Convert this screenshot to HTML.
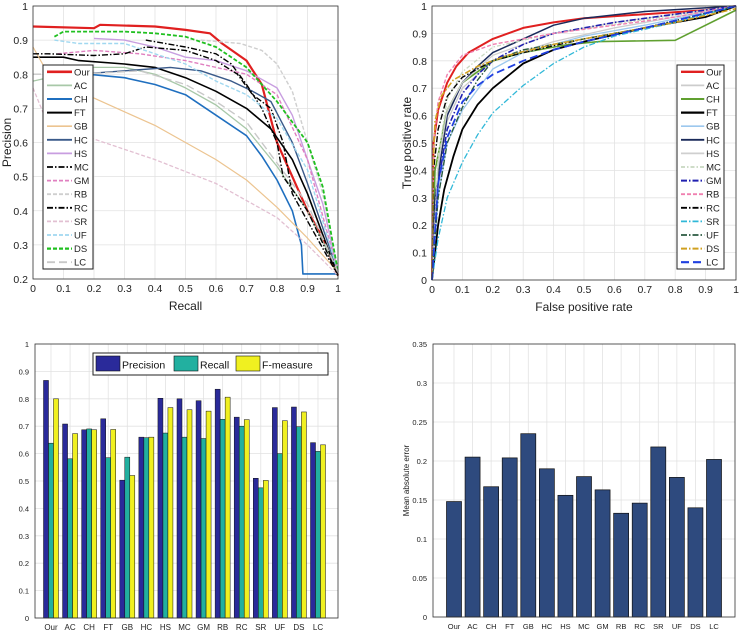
<!DOCTYPE html>
<html><head><meta charset="utf-8"><style>
body{margin:0;background:#fff;width:740px;height:633px;overflow:hidden;font-family:"Liberation Sans",sans-serif}
svg{position:absolute;left:0;top:0}
</style></head><body>
<svg id="fig" width="740" height="633" xmlns="http://www.w3.org/2000/svg"></svg>
<script>
const methods=["Our","AC","CH","FT","GB","HC","HS","MC","GM","RB","RC","SR","UF","DS","LC"];
const prRecall={
Our:[0,0.2,0.22,0.4,0.5,0.58,0.62,0.7,0.75,0.8,0.85,0.9,0.95,1],
AC:[0,0.2,0.3,0.4,0.5,0.6,0.7,0.8,0.9,1],
CH:[0.18,0.3,0.4,0.5,0.6,0.7,0.75,0.8,0.85,0.88,0.885,1],
FT:[0,0.1,0.15,0.3,0.4,0.5,0.6,0.7,0.78,0.85,0.9,1],
GB:[0,0.05,0.1,0.2,0.3,0.4,0.5,0.6,0.7,0.8,0.9,1],
HC:[0.15,0.3,0.45,0.55,0.65,0.72,0.78,0.85,0.9,1],
HS:[0.2,0.3,0.4,0.5,0.6,0.7,0.8,0.85,0.9,0.95,1],
MC:[0.37,0.5,0.6,0.65,0.7,0.75,0.8,0.82,0.9,1],
GM:[0.08,0.2,0.35,0.5,0.6,0.7,0.8,0.9,1],
RB:[0.55,0.68,0.75,0.8,0.85,0.9,0.95,1],
RC:[0,0.05,0.2,0.3,0.37,0.5,0.6,0.67,0.72,0.78,0.82,0.85,0.9,1],
SR:[0,0.05,0.2,0.4,0.6,0.8,0.9,1],
UF:[0.07,0.15,0.3,0.4,0.5,0.6,0.7,0.8,0.9,1],
DS:[0.07,0.1,0.3,0.4,0.5,0.6,0.7,0.8,0.9,0.95,1],
LC:[0,0.15,0.35,0.5,0.6,0.7,0.8,0.9,1]};
const prPrecision={
Our:[0.94,0.935,0.945,0.94,0.93,0.92,0.89,0.84,0.77,0.6,0.5,0.4,0.32,0.21],
AC:[0.78,0.82,0.82,0.8,0.76,0.71,0.64,0.53,0.4,0.22],
CH:[0.8,0.79,0.77,0.74,0.68,0.62,0.56,0.49,0.4,0.3,0.215,0.215],
FT:[0.85,0.85,0.84,0.83,0.82,0.79,0.75,0.7,0.64,0.55,0.45,0.21],
GB:[0.88,0.8,0.76,0.73,0.69,0.65,0.6,0.55,0.49,0.41,0.32,0.22],
HC:[0.8,0.81,0.82,0.81,0.78,0.75,0.72,0.6,0.48,0.22],
HS:[0.905,0.9,0.88,0.85,0.84,0.81,0.76,0.68,0.55,0.42,0.22],
MC:[0.9,0.88,0.86,0.83,0.77,0.7,0.6,0.5,0.4,0.21],
GM:[0.86,0.87,0.86,0.84,0.82,0.8,0.74,0.55,0.22],
RB:[0.9,0.89,0.87,0.83,0.75,0.6,0.45,0.22],
RC:[0.86,0.86,0.855,0.86,0.88,0.87,0.84,0.8,0.74,0.7,0.6,0.45,0.37,0.21],
SR:[0.76,0.65,0.61,0.55,0.48,0.38,0.3,0.21],
UF:[0.9,0.89,0.89,0.86,0.83,0.78,0.74,0.67,0.52,0.22],
DS:[0.91,0.925,0.925,0.92,0.91,0.88,0.82,0.72,0.6,0.47,0.22],
LC:[0.8,0.8,0.81,0.77,0.72,0.66,0.54,0.42,0.22]};
const rocFpr={
Our:[0,0.005,0.02,0.05,0.08,0.12,0.2,0.3,0.4,0.5,0.7,0.9,1],
AC:[0,0.02,0.05,0.1,0.2,0.4,0.6,0.8,1],
CH:[0,0.01,0.05,0.1,0.2,0.3,0.45,0.55,0.8,1],
FT:[0,0.02,0.04,0.07,0.1,0.15,0.2,0.3,0.4,0.5,0.7,0.9,1],
GB:[0,0.02,0.05,0.1,0.2,0.3,0.5,0.7,1],
HC:[0,0.01,0.05,0.1,0.15,0.2,0.3,0.4,0.5,0.7,1],
HS:[0,0.02,0.05,0.1,0.2,0.4,0.6,1],
MC:[0,0.02,0.05,0.1,0.2,0.4,0.7,1],
GM:[0,0.02,0.05,0.1,0.15,0.2,0.3,0.4,0.6,0.8,1],
RB:[0,0.005,0.02,0.05,0.1,0.2,0.4,0.6,0.8,1],
RC:[0,0.005,0.02,0.05,0.1,0.2,0.3,0.5,0.7,1],
SR:[0,0.02,0.05,0.1,0.15,0.2,0.3,0.4,0.5,0.6,0.8,1],
UF:[0,0.02,0.05,0.1,0.15,0.2,0.3,0.5,0.7,1],
DS:[0,0.003,0.01,0.03,0.07,0.15,0.25,0.4,0.6,0.8,1],
LC:[0,0.02,0.05,0.1,0.15,0.2,0.3,0.4,0.5,0.7,1]};
const rocTpr={
Our:[0,0.5,0.62,0.72,0.78,0.83,0.88,0.92,0.94,0.955,0.97,0.985,1],
AC:[0,0.4,0.58,0.7,0.8,0.87,0.92,0.96,1],
CH:[0,0.4,0.62,0.72,0.8,0.83,0.86,0.87,0.875,0.985],
FT:[0,0.2,0.33,0.45,0.55,0.64,0.7,0.79,0.84,0.87,0.92,0.96,1],
GB:[0,0.3,0.5,0.62,0.77,0.83,0.89,0.93,1],
HC:[0,0.3,0.6,0.72,0.78,0.83,0.88,0.93,0.955,0.98,1],
HS:[0,0.42,0.62,0.72,0.82,0.9,0.94,1],
MC:[0,0.45,0.66,0.76,0.85,0.9,0.95,1],
GM:[0,0.35,0.55,0.68,0.75,0.8,0.86,0.9,0.94,0.97,1],
RB:[0,0.5,0.65,0.75,0.82,0.86,0.9,0.93,0.96,1],
RC:[0,0.4,0.55,0.67,0.74,0.8,0.83,0.88,0.92,1],
SR:[0,0.15,0.3,0.43,0.53,0.61,0.71,0.79,0.85,0.89,0.94,1],
UF:[0,0.3,0.5,0.63,0.73,0.8,0.84,0.88,0.92,1],
DS:[0,0.4,0.58,0.67,0.73,0.78,0.82,0.86,0.9,0.94,0.99],
LC:[0,0.35,0.52,0.65,0.71,0.75,0.8,0.84,0.87,0.92,1]};
const precisionVals=[0.867,0.708,0.687,0.727,0.503,0.660,0.802,0.800,0.793,0.835,0.733,0.510,0.768,0.770,0.640];
const recallVals=[0.638,0.581,0.690,0.585,0.587,0.658,0.675,0.660,0.655,0.725,0.700,0.475,0.600,0.698,0.608];
const fmeasureVals=[0.800,0.673,0.687,0.688,0.520,0.660,0.768,0.760,0.755,0.806,0.724,0.502,0.720,0.752,0.632];
const maeVals=[0.148,0.205,0.167,0.204,0.235,0.190,0.156,0.180,0.163,0.133,0.146,0.218,0.179,0.140,0.202];
const ticks01=[0,0.1,0.2,0.3,0.4,0.5,0.6,0.7,0.8,0.9,1];
const prYTicks=[0.2,0.3,0.4,0.5,0.6,0.7,0.8,0.9,1];
const maeTicks=[0,0.05,0.1,0.15,0.2,0.25,0.3,0.35];

const prStyle={Our:["#e02020",2.2,""],AC:["#a8c8a8",1.3,""],CH:["#1f6fbf",1.6,""],FT:["#000",1.6,""],GB:["#ecc490",1.2,""],HC:["#3a5a8a",1.4,""],HS:["#c89ee0",1.4,""],MC:["#000",1.4,"6,2,1.5,2"],GM:["#e080c0",1.4,"4,2"],RB:["#cfcfcf",1.4,"4,2"],RC:["#000",1.4,"6,2,1.5,2"],SR:["#e2c0d2",1.3,"4,2"],UF:["#a0d8f0",1.4,"4,2"],DS:["#20c020",1.8,"4,2"],LC:["#c8c8c8",1.4,"8,4"]};
const rocStyle={Our:["#e02020",2,""],AC:["#cccccc",1.3,""],CH:["#60a030",1.6,""],FT:["#000",1.8,""],GB:["#9cc8ee",1.3,""],HC:["#1a2a5a",1.5,""],HS:["#cfcfcf",1.3,""],MC:["#c8d8c0",1.3,"4,2,1.5,2"],GM:["#2020b0",1.6,"6,2,1.5,2"],RB:["#f080b0",1.4,"4,2"],RC:["#000",1.4,"6,2,1.5,2"],SR:["#30b8d8",1.3,"6,2,1.5,2"],UF:["#2a5a40",1.4,"6,2,1.5,2"],DS:["#d0a020",1.6,"6,2,1.5,2"],LC:["#2040e0",1.8,"8,4"]};

const NS="http://www.w3.org/2000/svg";
const fig=document.getElementById('fig');
function mk(tag,attrs,parent,text){const e=document.createElementNS(NS,tag);for(const k in attrs)e.setAttribute(k,attrs[k]);if(text!==undefined)e.textContent=text;(parent||fig).appendChild(e);return e;}
function grp(name){const g=mk('g',{});return g;}

function lineAxes(name,x0,x1,y0,y1,xmin,xmax,ymin,ymax,xt,yt,xlab,ylab,xs,ys,styles,lg){
  const sx=v=>x0+(v-xmin)/(xmax-xmin)*(x1-x0);
  const sy=v=>y1-(v-ymin)/(ymax-ymin)*(y1-y0);
  const g=grp(name);
  const grid=mk('g',{},g);
  xt.forEach(t=>{mk('line',{x1:sx(t),x2:sx(t),y1:y0,y2:y1,stroke:'#e2e2e2','stroke-width':0.8},grid);
    const tl=mk('text',{x:sx(t),y:y1+13,'font-size':10.5,'text-anchor':'middle',fill:'#222'},g,String(t));
    });
  yt.forEach(t=>{mk('line',{x1:x0,x2:x1,y1:sy(t),y2:sy(t),stroke:'#e2e2e2','stroke-width':0.8},grid);
    const tl=mk('text',{x:x0-5,y:sy(t)+4,'font-size':10.5,'text-anchor':'end',fill:'#222'},g,String(t));
    });
  const xl=mk('text',{x:(x0+x1)/2,y:y1+31,'font-size':12,'text-anchor':'middle',fill:'#222'},g,xlab);
  
  const yl=mk('text',{x:0,y:0,'font-size':12,'text-anchor':'middle',fill:'#222',transform:`translate(${x0-(name==='roc-chart'?21:22)},${(y0+y1)/2}) rotate(-90)`},g,ylab);
  
  methods.forEach(m=>{const st=styles[m];
    const pts=xs[m].map((v,i)=>sx(v).toFixed(1)+','+sy(ys[m][i]).toFixed(1)).join(' ');
    const p=mk('polyline',{points:pts,fill:'none',stroke:st[0],'stroke-width':st[1],'stroke-dasharray':st[2],'stroke-linejoin':'round'},g);
    });
  mk('rect',{x:x0,y:y0,width:x1-x0,height:y1-y0,fill:'none',stroke:'#333','stroke-width':0.8},g);
  const L=grp(name+'-legend');
  mk('rect',{x:lg[0],y:lg[1],width:lg[2],height:lg[3],fill:'#fff',stroke:'#222','stroke-width':1},L);
  const step=lg[3]/15;
  methods.forEach((m,i)=>{const st=styles[m];const cy=lg[1]+step*(i+0.5);
    const e=mk('g',{},L);
    mk('line',{x1:lg[0]+4,x2:lg[0]+lg[2]*0.58,y1:cy,y2:cy,stroke:st[0],'stroke-width':st[1]+0.4,'stroke-dasharray':st[2]},e);
    mk('text',{x:lg[0]+lg[2]*0.62,y:cy+3.5,'font-size':9.5,fill:'#222'},e,m);});
}
lineAxes('pr-chart',33,338,6,279,0,1,0.2,1,ticks01,prYTicks,'Recall','Precision',prRecall,prPrecision,prStyle,[43,65,50,204]);
lineAxes('roc-chart',432,736,6,280,0,1,0,1,ticks01,ticks01,'False positive rate','True positive rate',rocFpr,rocTpr,rocStyle,[677,65,47,204]);

// grouped bar chart
(function(){
  const x0=35,x1=338,y0=344,y1=618;const sy=v=>y1-v*(y1-y0);
  const c0=51,step=(318-51)/14;const bw=5;
  const g=grp('prf-bar-chart');
  ticks01.forEach(t=>{mk('line',{x1:x0,x2:x1,y1:sy(t),y2:sy(t),stroke:'#e2e2e2','stroke-width':0.8},g);
    const tl=mk('text',{x:x0-6,y:sy(t)+3,'font-size':7.5,'text-anchor':'end',fill:'#222'},g,String(t));
    });
  methods.forEach((m,i)=>{const cx=c0+i*step;
    mk('line',{x1:cx,x2:cx,y1:y0,y2:y1,stroke:'#e2e2e2','stroke-width':0.8},g);
    const tl=mk('text',{x:cx,y:y1+12,'font-size':8,'text-anchor':'middle',fill:'#222'},g,m);
    
    [[precisionVals,'#2a2a9a','precision'],[recallVals,'#22b0a0','recall'],[fmeasureVals,'#f0f020','fmeasure']].forEach((s,j)=>{
      const v=s[0][i];const r=mk('rect',{x:cx-7.5+j*bw,y:sy(v),width:bw,height:y1-sy(v),fill:s[1],stroke:'#111','stroke-width':0.5},g);
      });
  });
  mk('rect',{x:x0,y:y0,width:x1-x0,height:y1-y0,fill:'none',stroke:'#333','stroke-width':0.8},g);
  const L=grp('prf-legend');
  mk('rect',{x:93,y:353,width:235,height:22,fill:'#fff',stroke:'#222'},L);
  [['#2a2a9a','Precision',96],['#22b0a0','Recall',174],['#f0f020','F-measure',236]].forEach(e=>{
    const eg=mk('g',{},L);
    mk('rect',{x:e[2],y:356,width:24,height:15,fill:e[0],stroke:'#111','stroke-width':0.6},eg);
    mk('text',{x:e[2]+26,y:368.5,'font-size':10.5,fill:'#111'},eg,e[1]);});
})();

// MAE chart
(function(){
  const x0=433,x1=735,y0=344,y1=617;const sy=v=>y1-v/0.35*(y1-y0);
  const c0=454,step=(714-454)/14,bw=15;
  const g=grp('mae-bar-chart');
  maeTicks.forEach(t=>{mk('line',{x1:x0,x2:x1,y1:sy(t),y2:sy(t),stroke:'#e2e2e2','stroke-width':0.8},g);
    const tl=mk('text',{x:x0-6,y:sy(t)+3,'font-size':7.5,'text-anchor':'end',fill:'#222'},g,String(t));
    });
  methods.forEach((m,i)=>{const cx=c0+i*step;
    mk('line',{x1:cx,x2:cx,y1:y0,y2:y1,stroke:'#e2e2e2','stroke-width':0.8},g);
    const tl=mk('text',{x:cx,y:y1+12,'font-size':7.5,'text-anchor':'middle',fill:'#222'},g,m);
    
    const v=maeVals[i];const r=mk('rect',{x:cx-bw/2,y:sy(v),width:bw,height:y1-sy(v),fill:'#2e4a7e',stroke:'#111','stroke-width':0.7},g);
    });
  mk('rect',{x:x0,y:y0,width:x1-x0,height:y1-y0,fill:'none',stroke:'#333','stroke-width':0.8},g);
  const yl=mk('text',{x:0,y:0,'font-size':8,'text-anchor':'middle',fill:'#222',transform:`translate(409,${(y0+y1)/2}) rotate(-90)`},g,'Mean absolute error');
  
})();
</script>
</body></html>
